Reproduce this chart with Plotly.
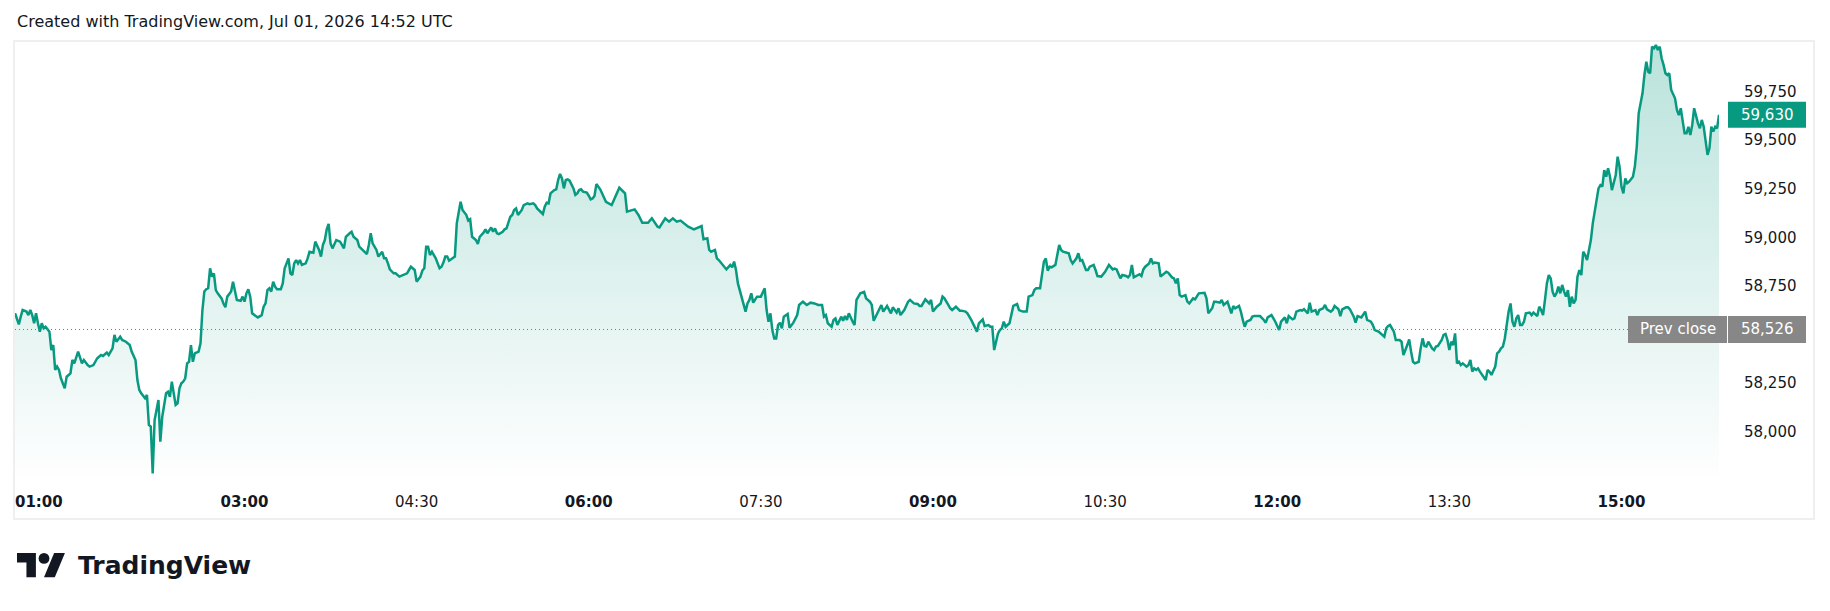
import pandas as pd
import plotly.graph_objects as go

DAY = "2026-07-01"
TITLE = "Created with TradingView.com, Jul 01, 2026 14:52 UTC"
BRAND = "TradingView"
PREV_CLOSE = 58526

# ---- price series (1-minute closes), local time ----
times_a = """01:00 01:02 01:03 01:04 01:06 01:07 01:08 01:09 01:10 01:11
01:12 01:13 01:14 01:15 01:16 01:18 01:19 01:20 01:21 01:22
01:23 01:24 01:26 01:27 01:29 01:30 01:31 01:32 01:33 01:35
01:36 01:38 01:39 01:41 01:43 01:45 01:46 01:48 01:49 01:51
01:52 01:53 01:55 01:56 01:58 02:00 02:01 02:03 02:04 02:05
02:06 02:08 02:09 02:10 02:11 02:12 02:13 02:15 02:16 02:17
02:19 02:20 02:21 02:22 02:23 02:24 02:25 02:26 02:27 02:28
02:29 02:30 02:31 02:32 02:33 02:34 02:36 02:37 02:38 02:39
02:40 02:41 02:42 02:43 02:44 02:45 02:46 02:48 02:49 02:50
02:51 02:53 02:54 02:55 02:56 02:58 02:59 03:00 03:01 03:02
03:03 03:04 03:06 03:07 03:09 03:10 03:11 03:12 03:13 03:14
03:15 03:16 03:17 03:19 03:20 03:21 03:22 03:23 03:24 03:25
03:26 03:27 03:28 03:29 03:30 03:32 03:33 03:34 03:36 03:37
03:39 03:40 03:41 03:42 03:43 03:44 03:45 03:46 03:48 03:49
03:50 03:52 03:53 03:55 03:56 03:57 03:59 04:00 04:02 04:04
04:05 04:06 04:07 04:08 04:09 04:10 04:12 04:13 04:14 04:15
04:16 04:18 04:19 04:21 04:23 04:25 04:26 04:27 04:29 04:30
04:32 04:33 04:34 04:35 04:36 04:37 04:38 04:40 04:41 04:42
04:43 04:44 04:45 04:46 04:47 04:49 04:50 04:51 04:52 04:53
04:54 04:56 04:57 04:58 04:59 05:01 05:02 05:03 05:05 05:06
05:07 05:09 05:10 05:11 05:12 05:13 05:15 05:16 05:17 05:19
05:20 05:21 05:22 05:23 05:25 05:26 05:28 05:29 05:31 05:32
05:33 05:35 05:36 05:37 05:38 05:39 05:40 05:42 05:43 05:44
05:45 05:46 05:47 05:48 05:49 05:50 05:52 05:53 05:54 05:55
05:56 05:57 05:59 06:00 06:01 06:02 06:03 06:04 06:05""".split()
prices_a = [
    58610, 58552, 58592, 58626, 58618, 58600, 58626, 58600, 58558, 58609,
    58558, 58515, 58558, 58532, 58540, 58515, 58420, 58446, 58318, 58335,
    58318, 58275, 58223, 58283, 58300, 58369, 58352, 58378, 58412, 58352,
    58369, 58343, 58335, 58343, 58378, 58395, 58390, 58407, 58395, 58429,
    58498, 58463, 58489, 58472, 58463, 58446, 58412, 58369, 58266, 58215,
    58198, 58172, 58189, 58035, 58026, 57786, 58060, 58163, 57949, 58077,
    58198, 58206, 58180, 58258, 58198, 58138, 58146, 58223, 58249, 58258,
    58275, 58352, 58360, 58446, 58360, 58403, 58412, 58455, 58626, 58721,
    58733, 58738, 58841, 58798, 58815, 58729, 58712, 58686, 58660, 58640,
    58695, 58721, 58772, 58729, 58678, 58674, 58695, 58669, 58712, 58733,
    58695, 58609, 58592, 58588, 58600, 58643, 58660, 58729, 58738, 58721,
    58772, 58746, 58733, 58733, 58763, 58841, 58866, 58892, 58815, 58806,
    58866, 58883, 58866, 58883, 58858, 58866, 58892, 58926, 58921, 58978,
    58935, 58901, 58961, 58986, 59041, 59069, 58969, 58943, 58986, 58983,
    58978, 58943, 59003, 59021, 59029, 59003, 58986, 58952, 58935, 58914,
    58961, 59021, 58969, 58955, 58935, 58901, 58926, 58892, 58892, 58866,
    58835, 58815, 58815, 58798, 58806, 58815, 58832, 58849, 58832, 58772,
    58798, 58829, 58841, 58952, 58952, 58909, 58926, 58892, 58866, 58841,
    58849, 58870, 58901, 58901, 58880, 58897, 58901, 59072, 59123, 59183,
    59141, 59115, 59086, 59093, 59003, 58986, 58966, 59003, 59024, 59041,
    59021, 59051, 59029, 59046, 59021, 59017, 59029, 59041, 59046, 59106,
    59115, 59141, 59149, 59115, 59141, 59166, 59175, 59171, 59175, 59166,
    59149, 59127, 59120, 59158, 59178, 59175, 59226, 59243, 59247, 59295,
    59326, 59303, 59252, 59295, 59298, 59292, 59252, 59218, 59226, 59243,
    59247, 59235, 59230, 59214, 59195, 59200, 59213, 59274, 59261,
]

times_b = """06:06 06:09 06:12 06:16 06:19 06:20 06:24 06:26 06:28 06:31
06:33 06:36 06:37 06:40 06:42 06:44 06:46 06:48 06:50 06:52
06:55 06:59 07:00 07:02 07:03 07:04 07:06 07:07 07:08 07:10
07:12 07:14 07:15 07:16 07:17 07:18 07:20 07:22 07:23 07:24
07:25 07:26 07:28 07:30 07:32 07:33 07:34 07:35 07:36 07:37
07:38 07:39 07:40 07:41 07:42 07:44 07:45 07:47 07:49 07:50
07:52 07:54 07:56 07:58 08:00 08:02 08:03 08:04 08:05 08:07
08:08 08:09 08:10 08:12 08:13 08:14 08:15 08:16 08:18 08:19
08:20 08:22 08:24 08:25 08:27 08:28 08:29 08:30 08:31 08:33
08:34 08:35 08:36 08:38 08:39 08:41 08:42 08:43 08:45 08:47
08:48 08:50 08:52 08:53 08:54 08:56 08:57 08:58 08:59 09:00
09:02 09:04 09:05 09:06 09:08 09:09 09:10 09:12 09:14 09:15
09:17 09:18 09:20 09:22 09:23 09:24 09:26 09:27 09:29 09:30
09:31 09:32 09:34 09:35 09:36 09:37 09:38 09:40 09:41 09:42
09:44 09:45 09:47 09:49 09:50 09:52 09:53 09:54 09:56 09:57
09:58 09:59 10:00 10:01 10:02 10:04 10:05 10:06 10:07 10:08
10:10 10:11 10:12 10:13 10:15 10:16 10:17 10:18 10:20 10:21
10:22 10:24 10:25 10:26 10:28 10:30 10:32 10:34 10:35 10:36
10:38 10:39 10:41 10:42 10:43 10:44 10:45 10:46 10:48 10:49
10:50 10:51 10:53 10:54 10:55 10:56 10:58 10:59 11:00 11:02
11:03 11:05 11:06 11:07 11:08 11:09 11:10 11:12 11:13 11:14
11:16 11:17 11:19""".split()
prices_b = [
    59247, 59183, 59166, 59255, 59226, 59132, 59144, 59115, 59075, 59075,
    59098, 59055, 59051, 59098, 59081, 59098, 59081, 59086, 59072, 59055,
    59041, 59058, 58990, 58995, 58935, 58926, 58935, 58892, 58883, 58858,
    58835, 58858, 58846, 58875, 58832, 58763, 58686, 58618, 58660, 58678,
    58712, 58664, 58695, 58695, 58738, 58626, 58566, 58609, 58523, 58480,
    58480, 58549, 58561, 58532, 58592, 58606, 58535, 58561, 58600, 58652,
    58669, 58652, 58664, 58660, 58652, 58652, 58592, 58600, 58558, 58540,
    58575, 58583, 58549, 58592, 58571, 58595, 58575, 58609, 58566, 58549,
    58678, 58712, 58719, 58686, 58669, 58652, 58571, 58592, 58618, 58652,
    58618, 58635, 58647, 58609, 58640, 58613, 58635, 58600, 58626, 58669,
    58678, 58660, 58657, 58647, 58647, 58681, 58669, 58660, 58678, 58618,
    58643, 58660, 58695, 58686, 58652, 58635, 58626, 58643, 58623, 58623,
    58618, 58609, 58575, 58540, 58515, 58558, 58578, 58544, 58549, 58540,
    58540, 58420, 58506, 58523, 58532, 58566, 58540, 58558, 58609, 58647,
    58657, 58626, 58618, 58618, 58695, 58703, 58729, 58738, 58738, 58823,
    58875, 58892, 58829, 58849, 58846, 58858, 58918, 58961, 58935, 58926,
    58921, 58918, 58883, 58866, 58892, 58918, 58880, 58883, 58832, 58832,
    58849, 58858, 58832, 58801, 58798, 58823, 58858, 58835, 58839, 58835,
    58789, 58806, 58801, 58794, 58806, 58858, 58794, 58798, 58810, 58801,
    58835, 58849, 58866, 58892, 58866, 58870, 58866, 58798, 58806, 58823,
    58818, 58794, 58789, 58763, 58789, 58703, 58695, 58703, 58669, 58660,
    58686, 58681, 58712,
]

times_c = """11:20 11:22 11:23 11:24 11:26 11:27 11:28 11:30 11:31 11:32
11:34 11:35 11:36 11:37 11:38 11:40 11:41 11:42 11:43 11:44
11:46 11:47 11:48 11:50 11:51 11:53 11:54 11:55 11:57 11:58
11:59 12:01 12:02 12:04 12:05 12:06 12:08 12:09 12:10 12:12
12:13 12:14 12:16 12:17 12:18 12:20 12:21 12:22 12:24 12:25
12:26 12:28 12:29 12:30 12:32 12:33 12:34 12:36 12:37 12:38
12:40 12:41 12:42 12:44 12:45 12:46 12:47 12:49 12:50 12:51
12:53 12:54 12:56 12:57 12:58 12:59 13:01 13:02 13:03 13:04
13:05 13:06 13:08 13:09 13:10 13:11 13:12 13:14 13:15 13:16
13:17 13:18 13:19 13:20 13:21 13:22 13:23 13:24 13:25 13:26
13:27 13:28 13:29 13:30 13:31 13:32 13:33 13:34 13:35 13:36
13:37 13:39 13:40 13:41 13:42 13:43 13:44 13:45 13:46 13:48
13:49 13:50 13:51 13:52 13:54 13:55 13:56 13:57 13:58 13:59
14:00 14:01 14:02 14:03 14:04 14:05 14:06 14:07 14:08 14:09
14:10 14:12 14:13 14:14 14:16 14:17 14:18 14:19 14:20 14:21
14:22 14:23 14:24 14:25 14:26 14:27 14:28 14:29 14:30 14:31
14:32 14:33 14:34 14:35 14:36 14:37 14:38 14:39 14:40 14:41
14:42 14:43 14:44 14:45 14:46 14:47 14:48 14:49 14:50 14:51
14:52 14:53 14:54 14:55 14:56 14:57 14:58 14:59 15:00 15:01
15:02 15:03 15:04 15:05 15:06 15:07 15:08 15:09 15:10 15:11
15:12 15:13 15:14 15:15 15:16 15:17 15:18 15:19 15:20 15:21
15:22 15:23 15:24 15:25 15:26 15:27 15:28 15:29 15:30 15:31
15:32 15:33 15:34 15:35 15:36 15:37 15:38 15:39 15:40 15:41
15:42 15:43 15:44 15:45 15:46 15:47 15:48 15:49 15:50 15:51""".split()
prices_c = [
    58712, 58715, 58686, 58609, 58635, 58669, 58669, 58664, 58678, 58652,
    58669, 58635, 58609, 58647, 58635, 58647, 58618, 58575, 58540, 58566,
    58575, 58592, 58595, 58595, 58595, 58575, 58561, 58588, 58600, 58583,
    58566, 58523, 58566, 58588, 58558, 58595, 58578, 58583, 58618, 58626,
    58623, 58630, 58609, 58664, 58618, 58626, 58600, 58626, 58635, 58652,
    58630, 58618, 58626, 58647, 58630, 58595, 58630, 58640, 58640, 58630,
    58592, 58561, 58595, 58588, 58600, 58618, 58575, 58566, 58549, 58523,
    58515, 58506, 58489, 58532, 58544, 58549, 58515, 58472, 58472, 58472,
    58463, 58395, 58446, 58475, 58412, 58360, 58352, 58360, 58429, 58480,
    58441, 58438, 58463, 58446, 58429, 58420, 58438, 58441, 58455, 58472,
    58498, 58503, 58472, 58420, 58463, 58446, 58506, 58352, 58360, 58343,
    58352, 58335, 58343, 58369, 58309, 58326, 58318, 58326, 58309, 58283,
    58266, 58318, 58309, 58292, 58335, 58403, 58412, 58429, 58438, 58480,
    58566, 58618, 58660, 58566, 58540, 58583, 58600, 58549, 58549, 58566,
    58609, 58613, 58600, 58613, 58595, 58643, 58626, 58600, 58678, 58763,
    58806, 58789, 58721, 58695, 58712, 58746, 58712, 58755, 58721, 58695,
    58729, 58643, 58695, 58660, 58678, 58798, 58832, 58806, 58926, 58909,
    58883, 58935, 58986, 59072, 59141, 59209, 59252, 59269, 59261, 59346,
    59312, 59355, 59312, 59243, 59286, 59321, 59415, 59364, 59261, 59226,
    59303, 59278, 59286, 59298, 59312, 59364, 59466, 59638, 59698, 59741,
    59835, 59904, 59852, 59844, 59981, 59972, 59989, 59964, 59981, 59921,
    59887, 59844, 59835, 59844, 59758, 59732, 59715, 59655, 59629, 59664,
    59595, 59535, 59535, 59569, 59526, 59578, 59664, 59621, 59586, 59561,
    59604, 59569, 59492, 59424, 59458, 59569, 59544, 59569, 59561, 59630,
]

x_tick_times = ["01:00", "03:00", "04:30", "06:00", "07:30", "09:00",
                "10:30", "12:00", "13:30", "15:00"]
x_tick_major = [True, True, False, True, False, True, False, True, False, True]
y_tick_values = [58000, 58250, 58750, 59000, 59250, 59500, 59750]

assert len(times_a) == len(prices_a), (len(times_a), len(prices_a))
assert len(times_b) == len(prices_b), (len(times_b), len(prices_b))
assert len(times_c) == len(prices_c), (len(times_c), len(prices_c))

times = times_a + times_b + times_c
prices = prices_a + prices_b + prices_c
ts = pd.to_datetime([f"{DAY} {t}" for t in times])
last_price = prices[-1]

# ---- layout geometry (pixels) ----
W, H = 1830, 611
ML, MR, MT, MB = 15, 111, 41, 126
PW, PH = W - ML - MR, H - MT - MB


def px(x):
    return (x - ML) / PW


def py(y):
    return (H - MB - y) / PH


Y_RANGE = [57726, 60010]
X_RANGE = [ts[0], ts[-1]]
FONT = "DejaVu Sans"
TXT = "#131722"
GREEN = "#089981"
GREY = "#878787"

fig = go.Figure()
fig.add_trace(go.Scatter(
    x=ts, y=prices, mode="lines",
    line=dict(color=GREEN, width=2.5),
    fill="tozeroy",
    fillgradient=dict(
        type="vertical",
        colorscale=[[0, "rgba(8,153,129,0.0)"], [1, "rgba(8,153,129,0.28)"]],
        start=Y_RANGE[0], stop=max(prices),
    ),
    hoverinfo="skip", showlegend=False,
))
# anchor trace for the secondary time axis (carries only the first tick label)
fig.add_trace(go.Scatter(
    x=[ts[0]], y=[prices[0]], xaxis="x2", mode="markers",
    marker=dict(opacity=0), hoverinfo="skip", showlegend=False,
))

tick_text = [f"<b>{t}</b>" if m else t for t, m in zip(x_tick_times, x_tick_major)]
tick_vals = pd.to_datetime([f"{DAY} {t}" for t in x_tick_times])

axis_font = dict(family=FONT, size=15, color=TXT)
fig.update_layout(
    width=W, height=H,
    margin=dict(l=ML, r=MR, t=MT, b=MB, pad=0),
    paper_bgcolor="white", plot_bgcolor="white",
    showlegend=False,
    xaxis=dict(
        type="date", range=X_RANGE,
        tickvals=list(tick_vals[1:]), ticktext=tick_text[1:],
        showgrid=False, zeroline=False, showline=False, ticks="",
        tickfont=axis_font, ticklabelstandoff=6,
    ),
    xaxis2=dict(
        type="date", range=X_RANGE, overlaying="x", anchor="y", side="bottom",
        tickvals=[tick_vals[0]], ticktext=[tick_text[0]],
        ticklabelposition="outside right",
        showgrid=False, zeroline=False, showline=False, ticks="",
        tickfont=axis_font, ticklabelstandoff=6,
    ),
    yaxis=dict(
        range=Y_RANGE, side="right", tickvals=y_tick_values, tickformat=",d",
        showgrid=False, zeroline=False, showline=False, ticks="",
        tickfont=axis_font, ticklabelstandoff=24,
    ),
)

shapes = [
    # outer frame
    dict(type="rect", xref="paper", yref="paper",
         x0=px(14), x1=px(1814), y0=py(519), y1=py(41),
         line=dict(color="#efefef", width=2), layer="below"),
    # previous close dotted line
    dict(type="line", xref="paper", yref="y", x0=0, x1=1,
         y0=PREV_CLOSE, y1=PREV_CLOSE,
         line=dict(color="#787b86", width=1, dash="1px,3px"), layer="above"),
    # last price tag
    dict(type="rect", xref="paper", yref="y", ysizemode="pixel", yanchor=last_price,
         x0=px(1728), x1=px(1806), y0=-13, y1=13,
         fillcolor=GREEN, line=dict(width=0), layer="above"),
    # prev close tags
    dict(type="rect", xref="paper", yref="y", ysizemode="pixel", yanchor=PREV_CLOSE,
         x0=px(1628), x1=px(1727), y0=-13.5, y1=13.5,
         fillcolor=GREY, line=dict(width=0), layer="above"),
    dict(type="rect", xref="paper", yref="y", ysizemode="pixel", yanchor=PREV_CLOSE,
         x0=px(1728), x1=px(1806), y0=-13.5, y1=13.5,
         fillcolor=GREY, line=dict(width=0), layer="above"),
]

# TradingView logo mark (36x28 viewBox), scaled into the footer
S, OX, OY = 1.35, 17, 553


def lp(sx, sy):
    return px(OX + sx * S), py(OY + (sy - 4) * S)


def path(points):
    parts = []
    for i, (a, b) in enumerate(points):
        x, y = lp(a, b)
        parts.append(("M" if i == 0 else "L") + f"{x:.6f},{y:.6f}")
    return " ".join(parts) + " Z"


shapes.append(dict(type="path", xref="paper", yref="paper",
                   path=path([(0, 4), (14, 4), (14, 22), (7, 22), (7, 11), (0, 11)]),
                   fillcolor="#131722", line=dict(width=0), layer="above"))
shapes.append(dict(type="path", xref="paper", yref="paper",
                   path=path([(27.5, 4), (35.5, 4), (28, 22), (20, 22)]),
                   fillcolor="#131722", line=dict(width=0), layer="above"))
cx0, cy0 = lp(16, 4)
cx1, cy1 = lp(24, 12)
shapes.append(dict(type="circle", xref="paper", yref="paper",
                   x0=cx0, x1=cx1, y0=cy1, y1=cy0,
                   fillcolor="#131722", line=dict(width=0), layer="above"))

annotations = [
    dict(text=TITLE, xref="paper", yref="paper", x=px(15), y=py(21),
         xanchor="left", yanchor="middle", showarrow=False,
         font=dict(family=FONT, size=16, color=TXT)),
    dict(text=f"{last_price:,}", xref="paper", yref="y", x=px(1767), y=last_price,
         xanchor="center", yanchor="middle", showarrow=False,
         font=dict(family=FONT, size=15, color="white")),
    dict(text="Prev close", xref="paper", yref="y", x=px(1677.5), y=PREV_CLOSE,
         xanchor="center", yanchor="middle", showarrow=False,
         font=dict(family=FONT, size=15, color="white")),
    dict(text=f"{PREV_CLOSE:,}", xref="paper", yref="y", x=px(1767), y=PREV_CLOSE,
         xanchor="center", yanchor="middle", showarrow=False,
         font=dict(family=FONT, size=15, color="white")),
    dict(text=f"<b>{BRAND}</b>", xref="paper", yref="paper", x=px(76), y=py(565),
         xanchor="left", yanchor="middle", showarrow=False,
         font=dict(family=FONT, size=25, color="#131722")),
]

fig.update_layout(shapes=shapes, annotations=annotations)
fig.write_html("out.html")
